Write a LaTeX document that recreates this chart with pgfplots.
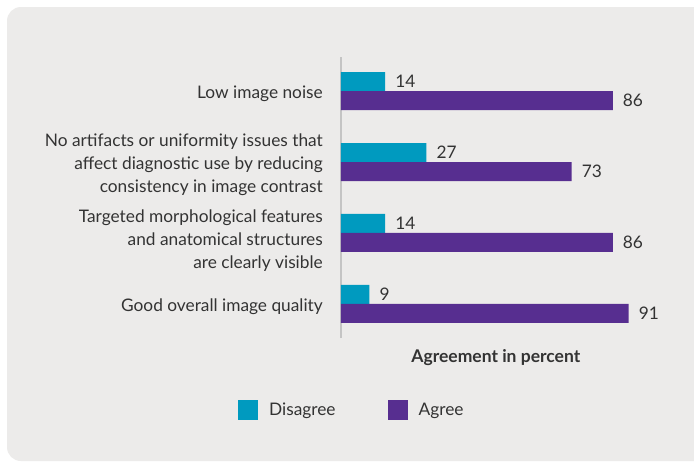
\documentclass[border=0pt]{standalone}
\usepackage{pgfplots}
\pgfplotsset{compat=1.18}
\usepackage{fontspec}
\setmainfont{Lato}
\definecolor{bg}{HTML}{ECEBEA}
\definecolor{teal}{HTML}{009ABF}
\definecolor{purp}{HTML}{572E90}
\definecolor{txt}{HTML}{333333}
\definecolor{axl}{HTML}{C4C4C4}
\begin{document}
\begin{tikzpicture}[x=1pt,y=1pt]
\useasboundingbox (0,0) rectangle (694,-463);
\clip (0,0) rectangle (694,-463);
\fill[white] (0,0) rectangle (694,-463);
\fill[bg,rounded corners=14pt] (7,-7) rectangle (730,-461);
\begin{axis}[
  at={(341pt,-338pt)}, anchor=south west,
  scale only axis, width=316pt, height=281pt,
  xmin=0, xmax=100, ymin=-0.48, ymax=3.48,
  xbar, bar width=19pt,
  axis x line=none,
  axis y line*=left,
  y axis line style={draw=axl, line width=2pt, -},
  ytick={0,0.94,2,3},
  yticklabels={Good overall image quality,{Targeted morphological features\\and anatomical structures\\are clearly visible},{No artifacts or uniformity issues that\\affect diagnostic use by reducing\\consistency in image contrast},Low image noise},
  major tick length=0pt,
  yticklabel style={align=right, inner sep=0pt, xshift=-18pt, yshift=-3pt, font=\fontsize{17.3}{23}\selectfont, text=txt},
  /pgf/number format/assume math mode=true,
  nodes near coords, point meta=x,
  nodes near coords style={anchor=west, inner sep=0pt, xshift=10pt, font=\fontsize{17.3}{19}\selectfont, text=txt},
  legend columns=2,
  legend style={draw=none, fill=none, inner sep=0pt, at={(-0.326,-0.256)}, anchor=west,
    font=\fontsize{17.3}{19}\selectfont, text=txt,
    /tikz/every even column/.append style={column sep=52pt},
    /tikz/every odd column/.append style={column sep=11pt},
    nodes={inner sep=0pt}},
  legend image code/.code={\fill[#1] (0pt,-10pt) rectangle (20pt,10pt);},
  clip=false,
]
\addplot[fill=teal, draw=none, bar shift=9.5pt] coordinates {(9,0) (14,1) (27,2) (14,3)};
\addlegendentry{Disagree}
\addplot[fill=purp, draw=none, bar shift=-9.5pt] coordinates {(91,0) (86,1) (73,2) (86,3)};
\addlegendentry{Agree}
\node[font=\bfseries\fontsize{17.5}{19}\selectfont, text=txt] at (axis description cs:0.49,-0.068) {Agreement in percent};
\end{axis}
\end{tikzpicture}
\end{document}
